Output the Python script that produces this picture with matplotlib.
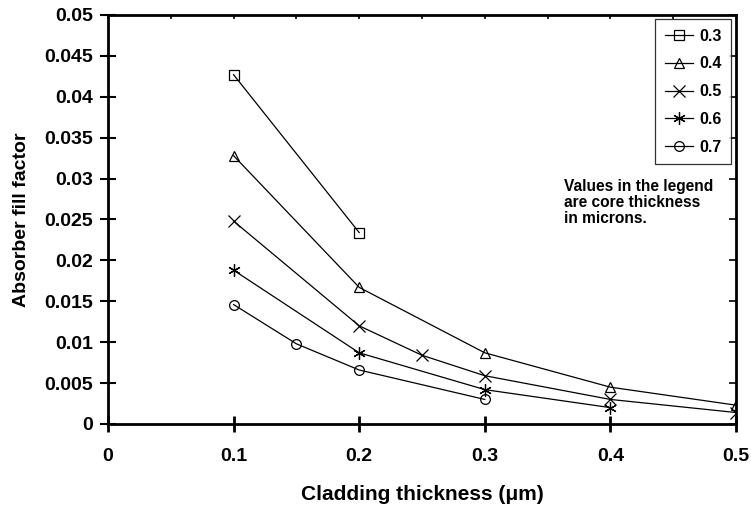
import matplotlib
matplotlib.use("Agg")
import matplotlib.pyplot as plt
from matplotlib.ticker import MultipleLocator

plt.rcParams['font.family'] = ['Liberation Sans', 'DejaVu Sans']

# Core thickness (microns) for each curve
core_labels = ["0.3", "0.4", "0.5", "0.6", "0.7"]
markers = ["s", "^", "x", (6, 2, 0), "o"]

# Cladding thickness (microns) and absorber fill factor per core thickness
clad_03 = [0.1, 0.2]
fill_03 = [0.0427, 0.0234]

clad_04 = [0.1, 0.2, 0.3, 0.4, 0.5]
fill_04 = [0.0328, 0.0167, 0.0087, 0.0045, 0.0023]

clad_05 = [0.1, 0.2, 0.25, 0.3, 0.4, 0.5]
fill_05 = [0.0248, 0.0120, 0.0084, 0.0059, 0.0030, 0.0014]

clad_06 = [0.1, 0.2, 0.3, 0.4]
fill_06 = [0.0188, 0.0087, 0.0042, 0.0020]

clad_07 = [0.1, 0.15, 0.2, 0.3]
fill_07 = [0.0146, 0.0098, 0.0066, 0.0030]

x_ticks = [0, 0.1, 0.2, 0.3, 0.4, 0.5]
x_tick_labels = ["0", "0.1", "0.2", "0.3", "0.4", "0.5"]
y_ticks = [0, 0.005, 0.01, 0.015, 0.02, 0.025, 0.03, 0.035, 0.04, 0.045, 0.05]
y_tick_labels = ["0", "0.005", "0.01", "0.015", "0.02", "0.025", "0.03",
                 "0.035", "0.04", "0.045", "0.05"]

series = [(clad_03, fill_03), (clad_04, fill_04), (clad_05, fill_05),
          (clad_06, fill_06), (clad_07, fill_07)]

fig = plt.figure(figsize=(7.51, 5.08), dpi=100)
ax = fig.add_axes([0.1438, 0.1654, 0.8362, 0.8051])

sizes = [7, 7.5, 8.5, 9, 7]
for (xs, ys), lab, mk, ms in zip(series, core_labels, markers, sizes):
    ax.plot(xs, ys, color="black", linewidth=0.9, marker=mk, markersize=ms,
            markerfacecolor="none", markeredgecolor="black",
            markeredgewidth=0.9, label=lab)

ax.set_xlim(0, 0.5)
ax.set_ylim(0, 0.05)
ax.set_xticks(x_ticks)
ax.set_xticklabels(x_tick_labels)
ax.set_yticks(y_ticks)
ax.set_yticklabels(y_tick_labels)

for sp in ax.spines.values():
    sp.set_linewidth(2)

ax.tick_params(axis="x", which="major", direction="inout", length=11, width=2,
               pad=12, labelsize=14, top=False)
ax.tick_params(axis="y", which="major", direction="inout", length=12, width=1.5,
               pad=5, labelsize=14, right=False)
for t in ax.get_xticklabels() + ax.get_yticklabels():
    t.set_fontweight("bold")

# Inward ticks on the top and right edges
top = ax.secondary_xaxis("top")
top.xaxis.set_major_locator(MultipleLocator(0.05))
top.tick_params(direction="in", length=3, width=1.2, labeltop=False)
top.spines["top"].set_visible(False)
right = ax.secondary_yaxis("right")
right.yaxis.set_major_locator(MultipleLocator(0.005))
right.tick_params(direction="in", length=5, width=1.2, labelright=False)
right.spines["right"].set_visible(False)

ax.set_xlabel("Cladding thickness (\u03bcm)", fontsize=15, fontweight="bold",
              labelpad=14)
ax.set_ylabel("Absorber fill factor", fontsize=14, fontweight="bold", labelpad=10)

leg = ax.legend(loc="upper right", bbox_to_anchor=(0.992, 0.99), frameon=True,
                fancybox=False, edgecolor="black", handlelength=1.8,
                handletextpad=0.35, borderpad=0.6, labelspacing=0.8,
                borderaxespad=0,
                prop={"weight": "bold", "size": 11.5})
leg.get_frame().set_linewidth(0.9)

ax.text(0.726, 0.6, "Values in the legend\nare core thickness\nin microns.",
        transform=ax.transAxes, fontsize=11.2, fontweight="bold", va="top",
        ha="left", linespacing=1.12)

fig.savefig("out.png", dpi=100)
